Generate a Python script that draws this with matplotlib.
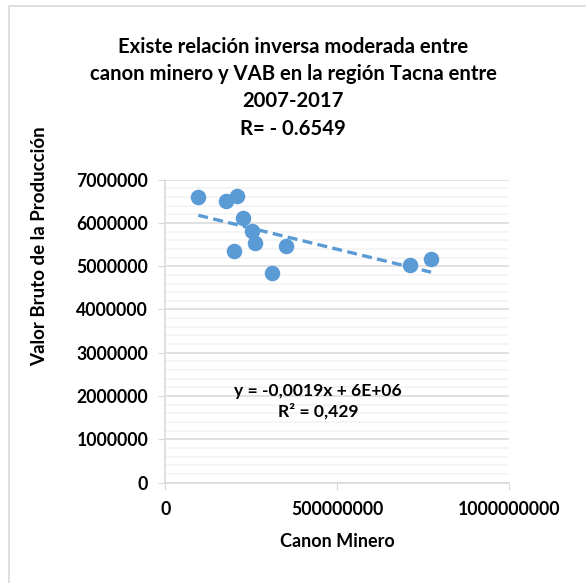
import numpy as np
import matplotlib
matplotlib.use("Agg")
import matplotlib.pyplot as plt
from matplotlib.patches import Rectangle
from matplotlib.ticker import MultipleLocator

# canon minero (x) vs valor bruto de la produccion (y), Tacna 2007-2017
canon = [95.5e6, 176.2e6, 207.3e6, 226.6e6, 252.8e6, 260.6e6,
         199.5e6, 350.0e6, 309.3e6, 712.0e6, 773.2e6]
vab = [6.591e6, 6.513e6, 6.621e6, 6.120e6, 5.813e6, 5.543e6,
       5.358e6, 5.473e6, 4.836e6, 5.028e6, 5.166e6]

x_ticks = [0, 500000000, 1000000000]
y_ticks = [0, 1000000, 2000000, 3000000, 4000000, 5000000, 6000000, 7000000]

blue = "#5B9BD5"
grid_major = "#D9D9D9"
grid_minor = "#F2F2F2"

plt.rcParams["font.family"] = ["Lato", "DejaVu Sans"]
plt.rcParams["font.weight"] = "bold"

fig = plt.figure(figsize=(5.86, 5.83), dpi=100)

# chart area border (runs off the right and bottom edge)
fig.patches.append(Rectangle((9 / 586, -0.1), 1.2, 1 - 6 / 583 + 0.1,
                             transform=fig.transFigure, fill=False,
                             edgecolor="#D9D9D9", linewidth=1.2))

ax = fig.add_axes([0.2824, 0.172, 0.5862, 0.520])

ax.scatter(canon, vab, s=125, color=blue, zorder=3, linewidths=0)

# linear trendline over the data range
m, b = np.polyfit(canon, vab, 1)
xs = np.array([min(canon), max(canon)])
ax.plot(xs, m * xs + b, color=blue, linewidth=2.4, linestyle=(0, (3, 1.6)),
        zorder=2)

ax.set_xlim(0, 1000000000)
ax.set_ylim(0, 7000000)
ax.set_xticks(x_ticks)
ax.set_xticklabels([str(v) for v in x_ticks])
ax.set_yticks(y_ticks)
ax.set_yticklabels([str(v) for v in y_ticks])
ax.yaxis.set_minor_locator(MultipleLocator(200000))

ax.grid(axis="y", which="major", color=grid_major, linewidth=1.1, zorder=0)
ax.grid(axis="y", which="minor", color=grid_minor, linewidth=1.1, zorder=0)
ax.set_axisbelow(True)

for side in ["top", "right"]:
    ax.spines[side].set_visible(False)
for side in ["left", "bottom"]:
    ax.spines[side].set_color(grid_major)
    ax.spines[side].set_linewidth(1.1)

ax.tick_params(axis="both", which="major", length=5, color=grid_major,
               labelsize=12.7, labelcolor="black")
ax.tick_params(axis="y", which="major", pad=7.5)
ax.tick_params(axis="y", which="minor", length=0)
ax.tick_params(axis="x", pad=8)

ax.set_xlabel("Canon Minero", fontsize=13, fontweight="bold", labelpad=11)
fig.text(40 / 586, 1 - 246 / 583, "Valor Bruto de la Producción",
         rotation=90, ha="center", va="center", fontsize=13.5,
         fontweight="bold")

ax.text(444e6, 1.88e6, "y = -0,0019x + 6E+06\nR² = 0,429", ha="center",
        va="center", fontsize=12.6, fontweight="bold", linespacing=1.3)

fig.text(0.5, 0.937, "Existe relación inversa moderada entre\n"
         "canon minero y VAB en la región Tacna entre\n2007-2017\nR= - 0.6549",
         ha="center", va="top", fontsize=14.6, fontweight="bold",
         linespacing=1.46)

fig.savefig("out.png", dpi=100)
